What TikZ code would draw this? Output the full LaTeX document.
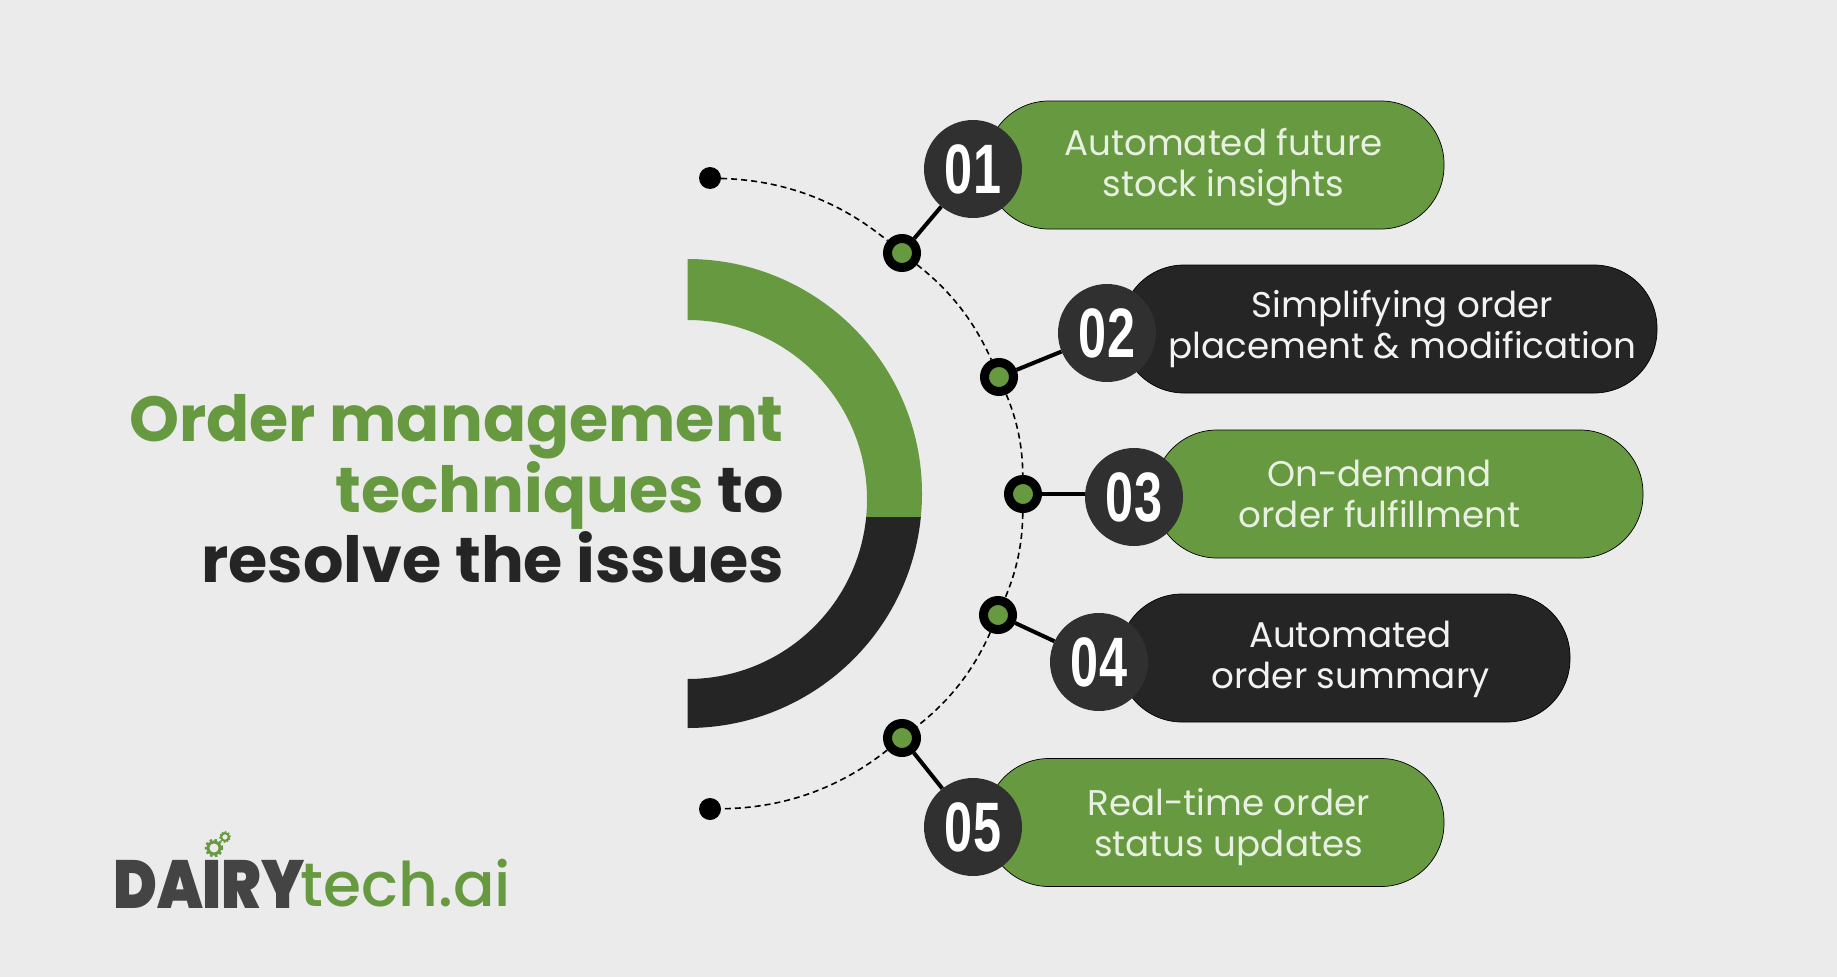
\documentclass[tikz,border=0pt]{standalone}
\usepackage{fontspec}
\setmainfont{Poppins}
\newfontfamily\titlefont[UprightFont=* Bold]{Poppins}
\newfontfamily\pillfont{Poppins}
\newfontfamily\logofont[UprightFont=* Black,FakeStretch=0.87]{Poppins}
\newfontfamily\logotech[UprightFont=* Medium]{Poppins}
\newfontfamily\numfont[FakeStretch=0.72,UprightFont=* Bold]{Liberation Sans}
\definecolor{bg}{HTML}{EBEBEB}
\definecolor{leaf}{HTML}{669940}
\definecolor{ink}{HTML}{252525}
\definecolor{disc}{HTML}{303030}
\definecolor{logogrey}{HTML}{444444}
\definecolor{pale}{HTML}{E8F0E2}
\definecolor{offwhite}{HTML}{F2F2F2}
\tikzset{
  pill/.style={draw=black,line width=0.7pt,rounded corners=63pt,minimum height=128pt,inner sep=0pt},
  pilltext/.style={align=center,font=\pillfont\fontsize{35.7}{41}\selectfont,inner sep=0pt},
  numdisc/.style={circle,fill=disc,minimum size=98pt,inner sep=0pt,text=white,font=\numfont\fontsize{70}{70}\selectfont},
  hub/.style={circle,draw=black,fill=leaf,line width=9pt,minimum size=29pt,inner sep=0pt},
  enddot/.style={circle,fill=black,minimum size=22pt,inner sep=0pt},
  trail/.style={black,line width=1.6pt,dash pattern=on 6pt off 4pt},
  link/.style={black,line width=4pt},
  headline/.style={font=\titlefont\fontsize{63.6}{70}\selectfont,anchor=base east,inner sep=0pt},
}
\begin{document}
\begin{tikzpicture}[x=1pt,y=-1pt]
\useasboundingbox (0,0) rectangle (1837,977);
\fill[bg] (0,0) rectangle (1837,977);
% half ring
\begin{scope}
\clip (600,200) rectangle (1000,517);
\fill[leaf] (687.5,259) arc[start angle=90,end angle=-90,radius=234.5pt] -- (687.5,679) arc[start angle=-90,end angle=90,radius=179.5pt] -- cycle;
\end{scope}
\begin{scope}
\clip (600,517) rectangle (1000,800);
\fill[ink] (687.5,259) arc[start angle=90,end angle=-90,radius=234.5pt] -- (687.5,679) arc[start angle=-90,end angle=90,radius=179.5pt] -- cycle;
\end{scope}
% title
\node[headline,text=leaf] (t1) at (784,441.5) {Order management};
\node[headline,text=ink] (t2) at (784,512) {\textcolor{leaf}{techniques} to};
\node[headline,text=ink] (t3) at (784,582) {resolve the issues};
% arc nodes
\node[enddot] (d1) at (710,178) {};
\node[enddot] (d2) at (710,809) {};
\node[hub] (n1) at (902,253) {};
\node[hub] (n2) at (999,377) {};
\node[hub] (n3) at (1023,494) {};
\node[hub] (n4) at (998,615) {};
\node[hub] (n5) at (902,738) {};
\draw[trail] (d1) to[bend left=19,looseness=.9] (n1);
\draw[trail] (n1) to[bend left=14,looseness=.9] (n2);
\draw[trail] (n2) to[bend left=11,looseness=.9] (n3);
\draw[trail] (n3) to[bend left=11,looseness=.9] (n4);
\draw[trail] (n4) to[bend left=14,looseness=.9] (n5);
\draw[trail] (n5) to[bend left=19,looseness=.9] (d2);
% pills
\node[pill,fill=leaf,minimum width=458pt] (p1) at (1215,165) {};
\node[pill,fill=ink,minimum width=536pt] (p2) at (1389,329) {};
\node[pill,fill=leaf,minimum width=489pt] (p3) at (1398.5,494) {};
\node[pill,fill=ink,minimum width=451pt] (p4) at (1344.5,658) {};
\node[pill,fill=leaf,minimum width=458pt] (p5) at (1215,822.5) {};
\node[pilltext,text=pale] (l1) at (1223.5,167) {Automated future\\stock insights};
\node[pilltext,text=offwhite] (l2) at (1402.5,329) {Simplifying order\\placement \& modification};
\node[pilltext,text=pale] (l3) at (1379.5,494) {On-demand\\order fulfillment};
\node[pilltext,text=offwhite] (l4) at (1350.5,659) {Automated\\order summary};
\node[pilltext,text=pale] (l5) at (1228.5,827.5) {Real-time order\\status updates};
% number discs
\node[numdisc] (c1) at (973,169) {01};
\node[numdisc] (c2) at (1107,333) {02};
\node[numdisc] (c3) at (1134,497) {03};
\node[numdisc] (c4) at (1099,662) {04};
\node[numdisc] (c5) at (973,827) {05};
\draw[link] (n1) -- (c1);
\draw[link] (n2) -- (c2);
\draw[link] (n3) -- (n3 -| c3.west);
\draw[link] (n4) -- (c4);
\draw[link] (n5) -- (c5);
% logo
\node[anchor=base west,inner sep=0pt,text=logogrey,font=\logofont\fontsize{68}{68}\selectfont] (lg1) at (113,908) {DAIRY};
\node[anchor=base west,inner sep=0pt,text=leaf,font=\logotech\fontsize{61.5}{61.5}\selectfont] (lg2) at (300.5,906) {tech.ai};
\coordinate (g1) at (214,848);
\coordinate (g2) at (225,837);
\draw[leaf,line width=3pt] (g1) circle[radius=6pt];
\draw[leaf,line width=2.5pt,dash pattern=on 2.4pt off 2.4pt] (g1) circle[radius=8pt];
\draw[leaf,line width=2pt] (g2) circle[radius=3.8pt];
\draw[leaf,line width=1.5pt,dash pattern=on 1.6pt off 1.6pt] (g2) circle[radius=5.2pt];
\end{tikzpicture}
\end{document}
